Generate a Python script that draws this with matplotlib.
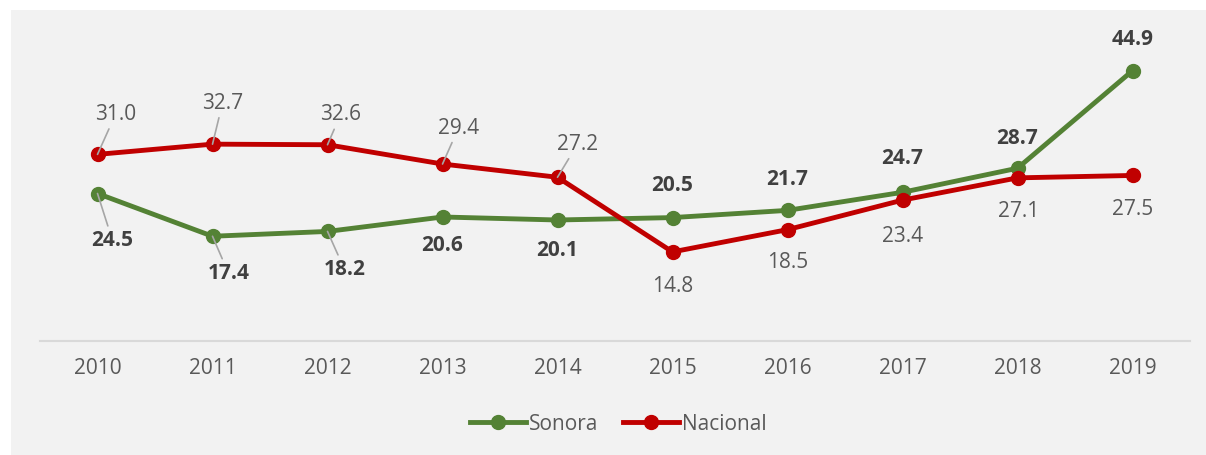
import matplotlib
matplotlib.use("Agg")
import matplotlib.pyplot as plt
from matplotlib.patches import Rectangle
from matplotlib.lines import Line2D

years = ["2010", "2011", "2012", "2013", "2014", "2015", "2016", "2017", "2018", "2019"]
sonora = [24.5, 17.4, 18.2, 20.6, 20.1, 20.5, 21.7, 24.7, 28.7, 44.9]
nacional = [31.0, 32.7, 32.6, 29.4, 27.2, 14.8, 18.5, 23.4, 27.1, 27.5]

# label offsets in pixels (dx, dy up-positive) and whether to draw a leader
nac_off = [(18, 40), (10, 41), (13, 30), (16, 36), (20, 33), (0, -35), (0, -33), (0, -36), (1, -34), (0, -34)]
nac_lead = [True, True, True, True, True, False, False, False, False, False]
son_off = [(15, -47), (16, -37), (17, -38), (0, -29), (0, -31), (0, 32), (0, 31), (0, 34), (0, 30), (0, 31)]
son_lead = [True, True, True, False, False, False, False, False, False, False]

GREEN = "#548235"
RED = "#c00000"
FONT = "Open Sans"
FS = 15
LW = 3.5
MS = 10

W, H = 1206, 455
fig = plt.figure(figsize=(W / 100, H / 100), dpi=100)
fig.patch.set_facecolor("white")
fig.patches.append(Rectangle((11 / W, 0), 1 - 11 / W, 1 - 10 / H, transform=fig.transFigure,
                             facecolor="#f2f2f2", edgecolor="none", zorder=-10))

ax = fig.add_axes([40 / W, (H - 341) / H, 1150 / W, 301 / H])
ax.set_facecolor("none")
ax.set_zorder(1)
x = list(range(len(years)))

ax.plot(x, sonora, color=GREEN, lw=LW, marker="o", ms=MS, zorder=3, solid_capstyle="round")
ax.plot(x, nacional, color=RED, lw=LW, marker="o", ms=MS, zorder=3, solid_capstyle="round")

ax.set_xlim(-0.5, len(years) - 0.5)
ax.set_ylim(0, 50)
ax.set_yticks([])
ax.set_xticks(x)
ax.set_xticklabels(years, fontsize=FS, color="#595959", family=FONT)
ax.tick_params(axis="x", length=0, pad=12)
for s in ["top", "right", "left"]:
    ax.spines[s].set_visible(False)
ax.spines["bottom"].set_color("#d9d9d9")
ax.spines["bottom"].set_linewidth(1.5)


def label(xi, yi, txt, off, lead, bold, color):
    kw = dict(textcoords="offset pixels", xytext=off, ha="center", va="center",
              fontsize=FS, color=color, family=FONT, zorder=4,
              fontweight="bold" if bold else "normal")
    if lead:
        kw["arrowprops"] = dict(arrowstyle="-", color="#a6a6a6", lw=1.2, shrinkA=1, shrinkB=0)
    ax.annotate(txt, (xi, yi), **kw)


for i in x:
    label(i, nacional[i], f"{nacional[i]:.1f}", nac_off[i], nac_lead[i], False, "#595959")
    label(i, sonora[i], f"{sonora[i]:.1f}", son_off[i], son_lead[i], True, "#404040")

handles = [Line2D([], [], color=GREEN, lw=LW, marker="o", ms=MS),
           Line2D([], [], color=RED, lw=LW, marker="o", ms=MS)]
leg = fig.legend(handles, ["Sonora", "Nacional"], loc="center", bbox_to_anchor=(618 / W, 1 - 424 / H),
                 ncol=2, frameon=False, handlelength=2.7, handletextpad=0.12, columnspacing=1.2,
                 prop={"family": FONT, "size": FS})
for t in leg.get_texts():
    t.set_color("#595959")

fig.savefig("out.png", dpi=100)
